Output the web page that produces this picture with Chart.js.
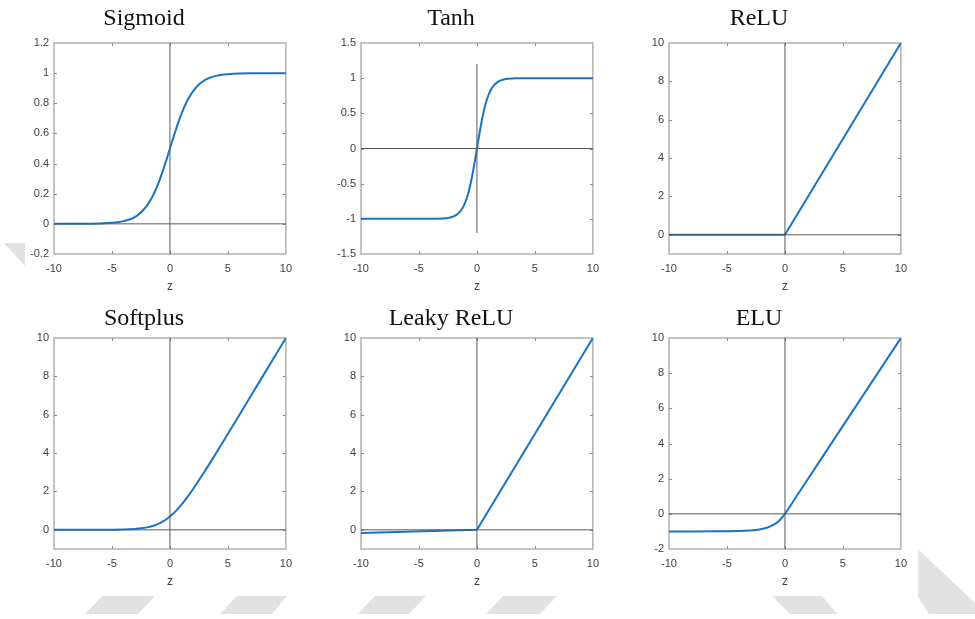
<!DOCTYPE html>
<html><head><meta charset="utf-8">
<script src="https://cdn.jsdelivr.net/npm/chart.js@4"></script>
<style>
html,body{margin:0;padding:0;background:#fff;width:975px;height:619px;overflow:hidden;}
#wm{position:absolute;left:0;top:0;}
canvas{position:absolute;}
</style></head><body>
<svg id="wm" width="975" height="619">
 <g fill="#e2e2e2">
  <polygon points="4,243 25,243 25,266"/>
  <polygon points="102,596 155,596 138,614 85,614"/>
  <polygon points="237,596 287,596 272,614 220,614"/>
  <polygon points="375,596 426,596 409,614 358,614"/>
  <polygon points="503,596 557,596 540,614 486,614"/>
  <polygon points="772,596 822,596 837,614 790,614"/>
  <polygon points="918,549 975,603 975,614 929,614 918,597"/>
 </g>
</svg>
<canvas id="c1" width="300" height="299" style="left:0px;top:0px"></canvas>
<canvas id="c2" width="300" height="299" style="left:307px;top:0px"></canvas>
<canvas id="c3" width="300" height="299" style="left:615px;top:0px"></canvas>
<canvas id="c4" width="300" height="299" style="left:0px;top:295px"></canvas>
<canvas id="c5" width="300" height="299" style="left:307px;top:295px"></canvas>
<canvas id="c6" width="300" height="299" style="left:615px;top:295px"></canvas>
<script>
// ---------- DATA ----------
const titles = ["Sigmoid", "Tanh", "ReLU", "Softplus", "Leaky ReLU", "ELU"];
const xLabel = "z";
const xTicks = [-10, -5, 0, 5, 10];

const sigmoidZ = [-10,-9,-8,-7,-6,-5,-4.5,-4,-3.5,-3,-2.5,-2,-1.5,-1,-0.5,0,0.5,1,1.5,2,2.5,3,3.5,4,4.5,5,6,7,8,9,10];
const sigmoidY = [0.0000,0.0001,0.0003,0.0009,0.0025,0.0067,0.011,0.018,0.029,0.047,0.076,0.119,0.182,0.269,0.378,0.500,0.622,0.731,0.818,0.881,0.924,0.953,0.971,0.982,0.989,0.993,0.9975,0.9991,0.9997,0.9999,1.0000];

const tanhZ = [-10,-8,-6,-5,-4,-3.5,-3,-2.5,-2,-1.75,-1.5,-1.25,-1,-0.75,-0.5,-0.25,0,0.25,0.5,0.75,1,1.25,1.5,1.75,2,2.5,3,3.5,4,5,6,8,10];
const tanhY = [-1,-1,-1,-0.9999,-0.9993,-0.998,-0.995,-0.987,-0.964,-0.941,-0.905,-0.848,-0.762,-0.635,-0.462,-0.245,0,0.245,0.462,0.635,0.762,0.848,0.905,0.941,0.964,0.987,0.995,0.998,0.9993,0.9999,1,1,1];

const reluZ = [-10, 0, 10];
const reluY = [0, 0, 10];

const softplusZ = [-10,-8,-6,-5,-4,-3,-2.5,-2,-1.5,-1,-0.5,0,0.5,1,1.5,2,3,4,5,6,7,8,10];
const softplusY = [0.0000,0.0003,0.0025,0.0067,0.018,0.049,0.079,0.127,0.201,0.313,0.474,0.693,0.974,1.313,1.701,2.127,3.049,4.018,5.007,6.002,7.001,8.000,10.000];

const leakyZ = [-10, 0, 10];
const leakyY = [-0.17, 0, 10];

const eluZ = [-10,-8,-6,-5,-4,-3,-2.5,-2,-1.5,-1,-0.5,0,1,5,10];
const eluY = [-1.0,-0.9997,-0.9975,-0.993,-0.982,-0.950,-0.918,-0.865,-0.777,-0.632,-0.393,0,1,5,10];

// y ranges and tick labels
const sigmoidRange = [-0.2, 1.2];  const sigmoidTicks = [-0.2,0,0.2,0.4,0.6,0.8,1,1.2];
const tanhRange = [-1.5, 1.5];     const tanhTicks = [-1.5,-1,-0.5,0,0.5,1,1.5];
const reluRange = [-1, 10];        const reluTicks = [0,2,4,6,8,10];
const softplusRange = [-1, 10];    const softplusTicks = [0,2,4,6,8,10];
const leakyRange = [-1, 10];       const leakyTicks = [0,2,4,6,8,10];
const eluRange = [-2, 10];         const eluTicks = [-2,0,2,4,6,8,10];

// vertical reference line at z = 0 (y extent)
const sigmoidVLine = [-0.2, 1.2];
const tanhVLine = [-1.2, 1.2];
const reluVLine = [-1, 10];
const softplusVLine = [-1, 10];
const leakyVLine = [-1, 10];
const eluVLine = [-2, 10];
// horizontal reference line y = 0 (z extent)
const hLineZ = [-10, 10];

// ---------- CHARTS ----------
Chart.defaults.font.family = "'Liberation Sans', Arial, Helvetica, sans-serif";
const TICK_COLOR = '#404040';
const BOX_COLOR = '#b0b0b0';

const boxPlugin = {
  id: 'matlabBox',
  beforeDatasetsDraw(chart) {
    const {ctx, chartArea: a, scales} = chart;
    ctx.save();
    ctx.strokeStyle = BOX_COLOR;
    ctx.lineWidth = 1.5;
    ctx.strokeRect(a.left, a.top, a.right - a.left, a.bottom - a.top);
    ctx.strokeStyle = '#8a8a8a';
    ctx.lineWidth = 1;
    const L = 3;
    ctx.beginPath();
    scales.x.ticks.forEach(t => {
      const px = Math.round(scales.x.getPixelForValue(t.value)) + 0.5;
      if (px <= a.left + 1 || px >= a.right - 1) return;
      ctx.moveTo(px, a.bottom); ctx.lineTo(px, a.bottom - L);
      ctx.moveTo(px, a.top); ctx.lineTo(px, a.top + L);
    });
    scales.y.ticks.forEach(t => {
      const py = Math.round(scales.y.getPixelForValue(t.value)) + 0.5;
      if (py <= a.top + 1 || py >= a.bottom - 1) return;
      ctx.moveTo(a.left, py); ctx.lineTo(a.left + L, py);
      ctx.moveTo(a.right, py); ctx.lineTo(a.right - L, py);
    });
    ctx.stroke();
    ctx.restore();
  }
};

function fmt(v) { return String(Math.round(v * 10) / 10); }

function makeChart(id, title, row, zs, ys, vLine, yRange, yTicks, smooth) {
  const curve = zs.map((z, i) => ({x: z, y: ys[i]}));
  const vPts = vLine.map(y => ({x: 0, y: y}));
  const hPts = hLineZ.map(z => ({x: z, y: 0}));
  const titlePad = row === 0 ? {top: 4, bottom: 10.2} : {top: 9.5, bottom: 4.7};
  new Chart(document.getElementById(id), {
    type: 'line',
    data: {
      datasets: [
        {data: hPts, borderColor: '#5a5a5a', borderWidth: 1, pointRadius: 0, tension: 0},
        {data: vPts, borderColor: '#5a5a5a', borderWidth: 1, pointRadius: 0, tension: 0},
        {data: curve, borderColor: '#1a74c2', borderWidth: 2, pointRadius: 0,
         cubicInterpolationMode: smooth ? 'monotone' : 'default', tension: 0}
      ]
    },
    options: {
      responsive: false,
      animation: false,
      devicePixelRatio: 1,
      layout: {padding: {left: 0, right: 12, top: 0, bottom: 0}},
      plugins: {
        legend: {display: false},
        tooltip: {enabled: false},
        title: {display: true, text: title, color: '#111',
                font: {family: "'Liberation Serif', 'Times New Roman', serif", size: 24, weight: 'normal', lineHeight: 1.2},
                padding: titlePad}
      },
      scales: {
        x: {
          type: 'linear', min: xTicks[0], max: xTicks[xTicks.length - 1],
          afterBuildTicks: s => { s.ticks = xTicks.map(v => ({value: v})); },
          afterFit: s => { s.height = 45; },
          grid: {display: false, drawTicks: false},
          border: {display: false},
          ticks: {color: TICK_COLOR, font: {size: 11}, padding: 8, maxRotation: 0, autoSkip: false, callback: fmt},
          title: {display: true, text: xLabel, color: TICK_COLOR, font: {size: 12}, padding: {top: 0, bottom: 5}}
        },
        y: {
          type: 'linear', min: yRange[0], max: yRange[1],
          afterBuildTicks: s => { s.ticks = yTicks.map(v => ({value: v})); },
          afterFit: s => { s.width = 54; },
          grid: {display: false, drawTicks: false},
          border: {display: false},
          ticks: {color: TICK_COLOR, font: {size: 11}, padding: 5, autoSkip: false, callback: fmt}
        }
      }
    },
    plugins: [boxPlugin]
  });
}

makeChart('c1', titles[0], 0, sigmoidZ, sigmoidY, sigmoidVLine, sigmoidRange, sigmoidTicks, true);
makeChart('c2', titles[1], 0, tanhZ, tanhY, tanhVLine, tanhRange, tanhTicks, true);
makeChart('c3', titles[2], 0, reluZ, reluY, reluVLine, reluRange, reluTicks, false);
makeChart('c4', titles[3], 1, softplusZ, softplusY, softplusVLine, softplusRange, softplusTicks, true);
makeChart('c5', titles[4], 1, leakyZ, leakyY, leakyVLine, leakyRange, leakyTicks, false);
makeChart('c6', titles[5], 1, eluZ, eluY, eluVLine, eluRange, eluTicks, true);
</script>
</body></html>
